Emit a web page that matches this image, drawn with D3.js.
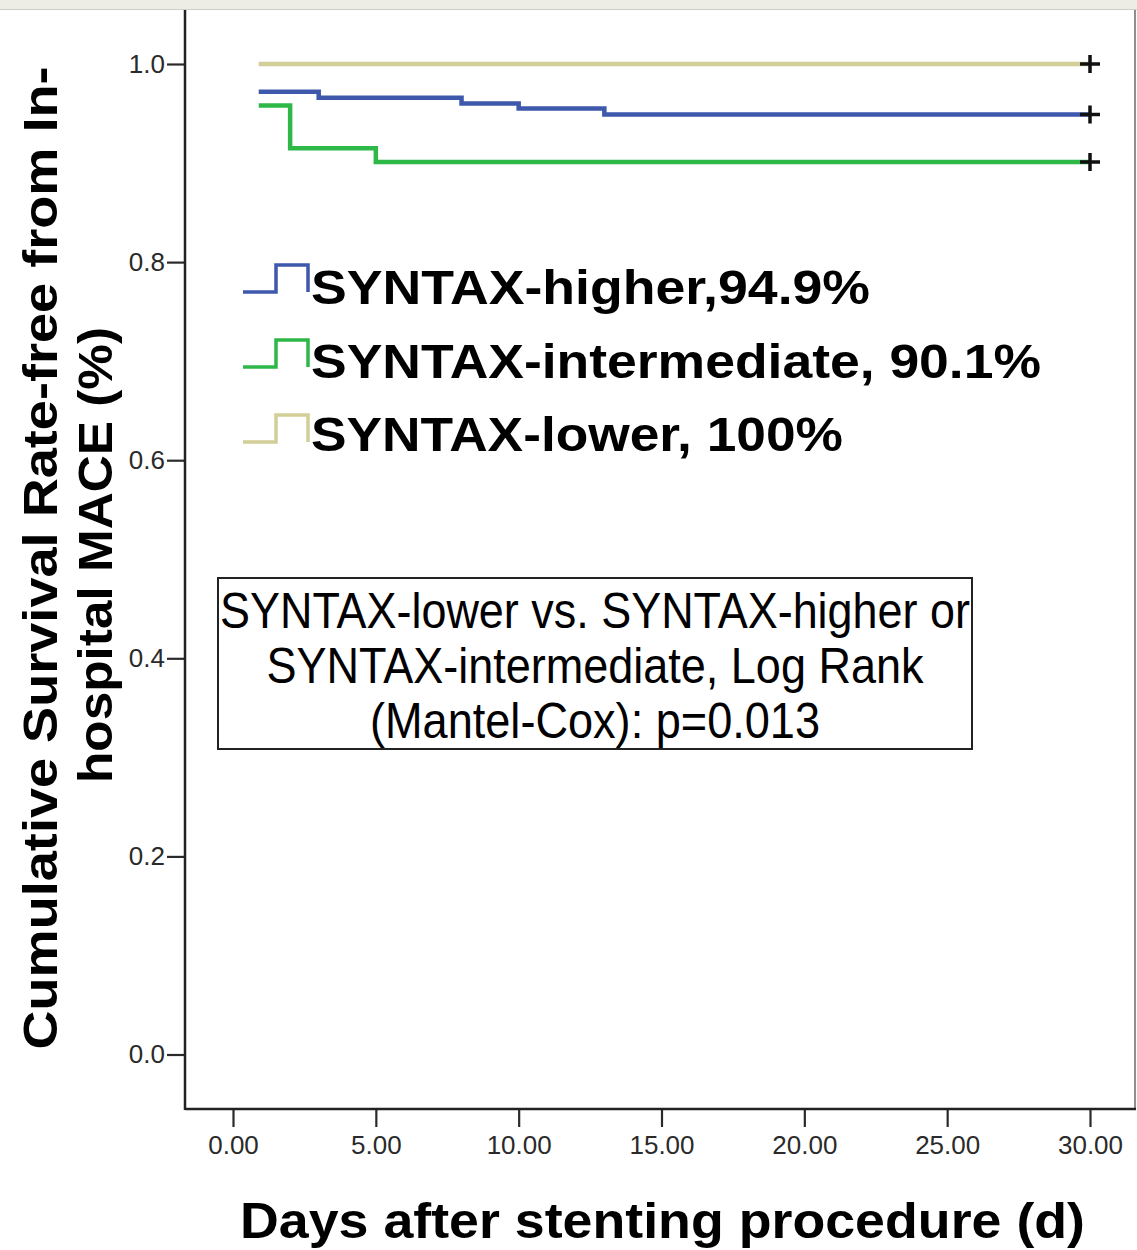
<!DOCTYPE html>
<html>
<head>
<meta charset="utf-8">
<script src="https://cdn.jsdelivr.net/npm/d3@7"></script>
<style>
  html, body { margin: 0; padding: 0; background: #ffffff; }
  svg { display: block; }
  text { font-family: "Liberation Sans", Arial, Helvetica, sans-serif; }
</style>
</head>
<body>
<svg id="chart" width="1137" height="1250"></svg>
<script>
// ---- data ----
const groups = ["SYNTAX-higher", "SYNTAX-intermediate", "SYNTAX-lower"];
const legendLabels = ["SYNTAX-higher,94.9%", "SYNTAX-intermediate, 90.1%", "SYNTAX-lower, 100%"];
const colors = ["#3e58ac", "#2eb848", "#d3ce97"];
const higherDays = [0.9, 3, 8, 10, 13, 30];
const higherSurv = [0.972, 0.966, 0.960, 0.955, 0.949, 0.949];
const interDays = [0.9, 2, 5, 30];
const interSurv = [0.958, 0.915, 0.901, 0.901];
const lowerDays = [0.9, 30];
const lowerSurv = [1.0, 1.0];
const censorDay = 30;
const xTicks = [0, 5, 10, 15, 20, 25, 30];
const yTicks = [0, 0.2, 0.4, 0.6, 0.8, 1.0];
const xTitle = "Days after stenting procedure (d)";
const yTitleLines = ["Cumulative Survival Rate-free from In-", "hospital MACE (%)"];
const noteLines = ["SYNTAX-lower vs. SYNTAX-higher or", "SYNTAX-intermediate, Log Rank", "(Mantel-Cox): p=0.013"];

const series = [
  {name: groups[0], days: higherDays, surv: higherSurv, color: colors[0]},
  {name: groups[1], days: interDays, surv: interSurv, color: colors[1]},
  {name: groups[2], days: lowerDays, surv: lowerSurv, color: colors[2]}
];

// ---- layout ----
const svg = d3.select("#chart");
const plot = {left: 185, top: 10, right: 1135, bottom: 1109};
const x = d3.scaleLinear().domain([0, 30]).range([233, 1090]);
const y = d3.scaleLinear().domain([0, 1]).range([1054.5, 64]);

// top band
svg.append("rect").attr("x", 0).attr("y", 0).attr("width", 1137).attr("height", 9)
  .attr("fill", "#edece5");
svg.append("line").attr("x1", 0).attr("x2", 1137).attr("y1", 9.5).attr("y2", 9.5)
  .attr("stroke", "#cfcfc8").attr("stroke-width", 1);

// frame
svg.append("line").attr("x1", plot.right).attr("x2", plot.right)
  .attr("y1", plot.top).attr("y2", plot.bottom)
  .attr("stroke", "#6a6a6a").attr("stroke-width", 1.5);

// axes
const xAxis = d3.axisBottom(x).tickValues(xTicks).tickFormat(d3.format(".2f"))
  .tickSize(18).tickPadding(9);
const gx = svg.append("g").attr("transform", `translate(0,${plot.bottom})`).call(xAxis);
gx.select(".domain").remove();
gx.selectAll(".tick line").attr("stroke", "#2a2a2a").attr("stroke-width", 2.2);
gx.selectAll(".tick text").attr("font-size", 26).attr("fill", "#2a2a2a")
  .attr("font-family", "'Liberation Sans', Arial, sans-serif");

const yAxis = d3.axisLeft(y).tickValues(yTicks).tickFormat(d3.format(".1f"))
  .tickSize(18).tickPadding(2);
const gy = svg.append("g").attr("transform", `translate(${plot.left},0)`).call(yAxis);
gy.select(".domain").remove();
gy.selectAll(".tick line").attr("stroke", "#2a2a2a").attr("stroke-width", 2.2);
gy.selectAll(".tick text").attr("font-size", 26).attr("fill", "#2a2a2a")
  .attr("font-family", "'Liberation Sans', Arial, sans-serif");

// axis lines
svg.append("line").attr("x1", plot.left).attr("x2", plot.left)
  .attr("y1", plot.top).attr("y2", plot.bottom + 1)
  .attr("stroke", "#222").attr("stroke-width", 2.5);
svg.append("line").attr("x1", plot.left).attr("x2", plot.right + 1)
  .attr("y1", plot.bottom).attr("y2", plot.bottom)
  .attr("stroke", "#222").attr("stroke-width", 2.5);

// curves
const line = d3.line().x(d => x(d[0])).y(d => y(d[1])).curve(d3.curveStepAfter);
series.slice().reverse().forEach(s => {
  const pts = s.days.map((d, i) => [d, s.surv[i]]);
  svg.append("path").attr("d", line(pts))
    .attr("fill", "none").attr("stroke", s.color).attr("stroke-width", 4.5)
    .attr("stroke-linejoin", "miter");
});
// censor marks
series.forEach(s => {
  const cx = x(censorDay), cy = y(s.surv[s.surv.length - 1]);
  svg.append("path")
    .attr("d", `M${cx - 10},${cy}H${cx + 10}M${cx},${cy - 9}V${cy + 9}`)
    .attr("stroke", "#111").attr("stroke-width", 3.5).attr("fill", "none");
});

// legend
const legY = [292, 367, 442];
const legTop = [265, 340, 415];
const legLen = [559, 730, 532];
const legBase = [304, 378, 451];
series.forEach((s, i) => {
  svg.append("path")
    .attr("d", `M243,${legY[i]}H276V${legTop[i]}H308V${legY[i]}`)
    .attr("fill", "none").attr("stroke", s.color).attr("stroke-width", 3.5);
  svg.append("text").attr("x", 311).attr("y", legBase[i])
    .attr("font-size", 48).attr("font-weight", "bold").attr("fill", "#000")
    .attr("textLength", legLen[i]).attr("lengthAdjust", "spacingAndGlyphs")
    .text(legendLabels[i]);
});

// note box
svg.append("rect").attr("x", 218).attr("y", 578).attr("width", 754).attr("height", 171)
  .attr("fill", "#fff").attr("stroke", "#222").attr("stroke-width", 2);
const noteLen = [750, 657, 450];
noteLines.forEach((t, i) => {
  svg.append("text").attr("x", 595).attr("y", 628 + i * 55)
    .attr("text-anchor", "middle").attr("font-size", 50).attr("fill", "#000")
    .attr("textLength", noteLen[i]).attr("lengthAdjust", "spacingAndGlyphs")
    .text(t);
});

// titles
svg.append("text").attr("x", 240).attr("y", 1238)
  .attr("font-size", 50).attr("font-weight", "bold").attr("fill", "#000")
  .attr("textLength", 845).attr("lengthAdjust", "spacingAndGlyphs")
  .text(xTitle);
const yBase = [57, 112];
const yLen = [983, 456];
const yCenter = [558, 555];
yTitleLines.forEach((t, i) => {
  svg.append("text")
    .attr("transform", `translate(${yBase[i]},${yCenter[i]}) rotate(-90)`)
    .attr("text-anchor", "middle").attr("font-size", 48).attr("font-weight", "bold")
    .attr("fill", "#000").attr("textLength", yLen[i]).attr("lengthAdjust", "spacingAndGlyphs")
    .text(t);
});
</script>
</body>
</html>
